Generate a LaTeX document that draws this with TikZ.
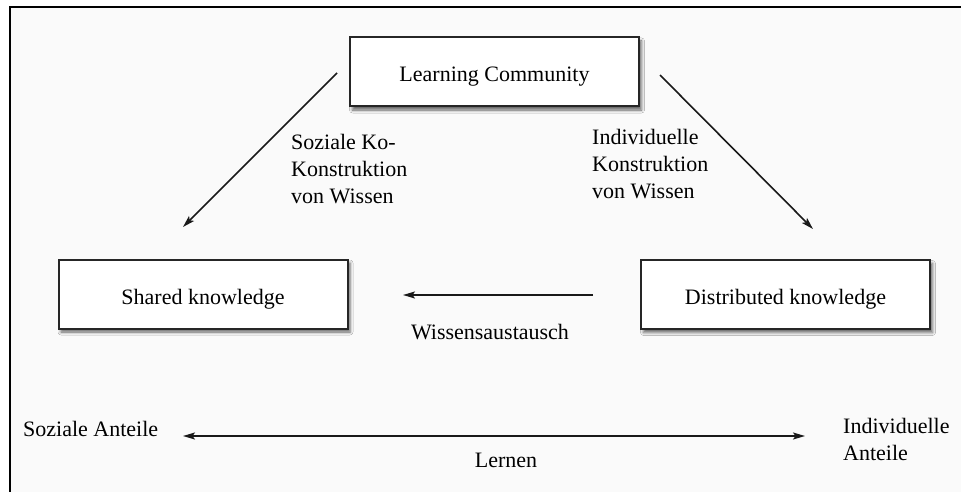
\documentclass[tikz,border=0pt]{standalone}
\usepackage{fontspec}
\setmainfont{Liberation Serif}
\usetikzlibrary{arrows.meta,shadows.blur}
\begin{document}
\begin{tikzpicture}[x=1pt,y=-1pt,
  every node/.style={font=\fontsize{22}{27}\selectfont},
  box/.style={draw=black!85, line width=2pt, fill=white,
    minimum width=289pt, minimum height=69pt,
    text height=20pt, text depth=0pt,
    blur shadow={shadow xshift=2.5pt, shadow yshift=-3.5pt,
      shadow blur radius=3pt, shadow opacity=60}},
  tip/.style={Stealth[length=12pt,width=7pt,inset=2.5pt]},
  conn/.style={draw=black!90, line width=1.6pt, -{Stealth[length=12pt,width=7pt,inset=2.5pt]}},
  lbl/.style={align=left, inner sep=0pt}
]
% canvas and frame
\useasboundingbox (0,0) rectangle (961,492);
\fill[white] (0,0) rectangle (961,492);
\fill[black!2] (10,7) rectangle (961,492);
\draw[line width=2.4pt, line cap=rect] (10,492) -- (10,7) -- (961,7);

% the three knowledge boxes
\node[box] (lc) at (494.5,72) {Learning Community};
\node[box] (sk) at (203,294) {Shared knowledge};
\node[box] (dk) at (785.5,294.5) {Distributed knowledge};

% free ends of the connectors
\coordinate (lcL) at (337,73);
\coordinate (skT) at (183,227);
\coordinate (lcR) at (660,75);
\coordinate (dkT) at (813,229);
\coordinate (dkW) at (593,295);
\coordinate (skE) at (403,295);
\coordinate (soz) at (183,436);
\coordinate (ind) at (805,436);

\draw[conn] (lcL) -- (skT);
\draw[conn] (lcR) -- (dkT);
\draw[conn] (dkW) -- (skE);
\draw[conn, {Stealth[length=12pt,width=7pt,inset=2.5pt]}-{Stealth[length=12pt,width=7pt,inset=2.5pt]}] (soz) -- (ind);

% labels
\node[lbl, anchor=north west] (lk) at (291,134) {Soziale Ko-\\Konstruktion\\von Wissen};
\node[lbl, anchor=north west] (lr) at (592,129) {Individuelle\\Konstruktion\\von Wissen};
\node[inner sep=0pt, anchor=base] (wa) at (490,339) {Wissensaustausch};
\node[inner sep=0pt, anchor=base west] (sa) at (23,436) {Soziale Anteile};
\node[lbl, anchor=north west] (ia) at (843,418) {Individuelle\\Anteile};
\node[inner sep=0pt, anchor=base] (le) at (506,467) {Lernen};
\end{tikzpicture}
\end{document}
